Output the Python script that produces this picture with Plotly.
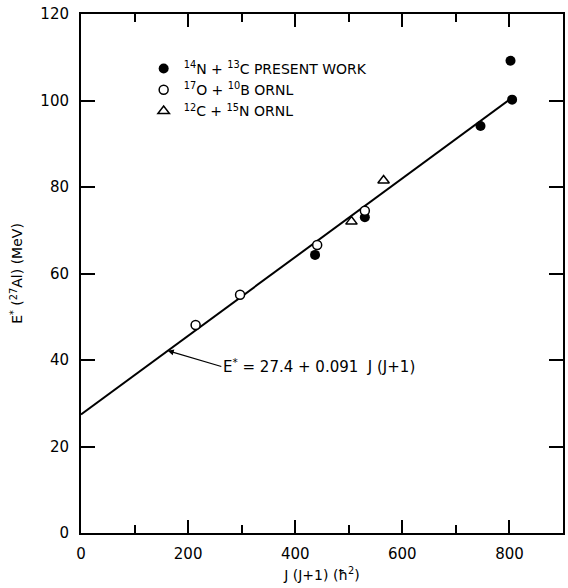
import plotly.graph_objects as go

# Data
present_x = [437, 530, 746, 802, 805]
present_y = [64.3, 73.0, 94.1, 109.2, 100.2]
ornl_o_x = [214, 297, 441, 530]
ornl_o_y = [48.1, 55.1, 66.6, 74.5]
ornl_c_x = [505, 565]
ornl_c_y = [72.0, 81.5]
fit_intercept = 27.4
fit_slope = 0.091
fit_x = [0, 805]
fit_y = [fit_intercept + fit_slope * v for v in fit_x]

xtick_vals = [0, 200, 400, 600, 800]
ytick_vals = [0, 20, 40, 60, 80, 100, 120]

FONT = "DejaVu Sans"

fig = go.Figure()
fig.add_trace(go.Scatter(x=fit_x, y=fit_y, mode="lines",
                         line=dict(color="black", width=2), showlegend=False,
                         hoverinfo="skip"))
fig.add_trace(go.Scatter(x=present_x, y=present_y, mode="markers",
                         marker=dict(symbol="circle", size=10, color="black"),
                         name="<sup>14</sup>N + <sup>13</sup>C PRESENT WORK"))
fig.add_trace(go.Scatter(x=ornl_o_x, y=ornl_o_y, mode="markers",
                         marker=dict(symbol="circle", size=9, color="white",
                                     line=dict(color="black", width=1.5)),
                         name="<sup>17</sup>O + <sup>10</sup>B ORNL"))
fig.add_trace(go.Scatter(x=ornl_c_x, y=ornl_c_y, mode="markers",
                         marker=dict(symbol="triangle-up-open", size=10, color="black",
                                     line=dict(width=1.5)),
                         name="<sup>12</sup>C + <sup>15</sup>N ORNL"))

fig.add_annotation(x=162, y=fit_intercept + fit_slope * 162, xref="x", yref="y",
                   ax=262, ay=38.5, axref="x", ayref="y",
                   text="E<sup>*</sup> = 27.4 + 0.091  J (J+1)",
                   showarrow=True, arrowhead=2, arrowsize=1, arrowwidth=1.2,
                   arrowcolor="black", xanchor="left",
                   font=dict(family=FONT, size=15, color="black"))

axis_common = dict(showline=True, linecolor="black", linewidth=2, mirror="allticks",
                   ticks="inside", tickcolor="black", tickwidth=2, showgrid=False,
                   zeroline=False, tickfont=dict(family=FONT, size=15, color="black"))

fig.update_xaxes(range=[0, 900], tickvals=xtick_vals, ticklen=13, ticklabelstandoff=6,
                 minor=dict(tickvals=[100, 300, 500, 700], ticklen=8, ticks="inside",
                            tickcolor="black", tickwidth=2),
                 title=dict(text="J (J+1) (ħ<sup>2</sup>)", standoff=8,
                            font=dict(family=FONT, size=14, color="black")),
                 **axis_common)
fig.update_yaxes(range=[0, 120], tickvals=ytick_vals, ticklen=14, ticklabelstandoff=7,
                 title=dict(text="E<sup>*</sup> (<sup>27</sup>Al) (MeV)", standoff=14,
                            font=dict(family=FONT, size=14, color="black")),
                 **axis_common)

fig.update_layout(width=568, height=588, margin=dict(l=81, r=3, t=14, b=55),
                  paper_bgcolor="white", plot_bgcolor="white",
                  font=dict(family=FONT, color="black"),
                  legend=dict(x=0.13, y=0.925, xanchor="left", yanchor="top",
                              bgcolor="rgba(0,0,0,0)", tracegroupgap=0,
                              font=dict(family=FONT, size=14, color="black"),
                              itemwidth=30))

fig.write_html("out.html")
